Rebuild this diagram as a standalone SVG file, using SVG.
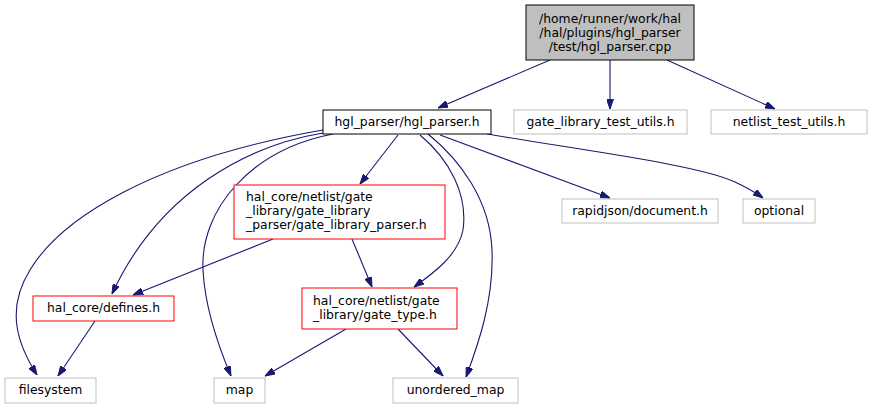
<svg xmlns="http://www.w3.org/2000/svg" width="873" height="409" viewBox="0 0 873 409">
<style>
text{font-family:"DejaVu Sans","Liberation Sans",sans-serif;font-size:12.4px;fill:#000}
.c{text-anchor:middle}
.n rect{fill:#fff;stroke:#bfbfbf;stroke-width:1}
.n.r rect{stroke:#ff0000}
.n.k rect{stroke:#000}
.n.root rect{fill:#bfbfbf;stroke:#000}
.e path{fill:none;stroke:#191970;stroke-width:1.1;marker-end:url(#a)}
</style>
<defs>
<marker id="a" viewBox="0 0 10 7" refX="10" refY="3.5" markerWidth="10" markerHeight="7" markerUnits="userSpaceOnUse" orient="auto">
<path d="M0,0 L10,3.5 L0,7 z" fill="#191970" stroke="#191970"/>
</marker>
</defs>
<rect width="873" height="409" fill="#fff"/>
<g class="e">
<path d="M550,60 L438,108"/>
<path d="M610,60 L610,109"/>
<path d="M667,60 L775,109"/>
<path d="M323,130 C150,160 60,220 30,270 C5,310 18,345 37,375"/>
<path d="M323,133 C250,145 160,190 112,294"/>
<path d="M333,134 C250,150 200,210 203,270 C205,310 220,350 231,376"/>
<path d="M398,135 L360,184"/>
<path d="M420,135 C450,160 468,195 463,230 C458,255 435,272 414,287"/>
<path d="M428,134 C460,160 490,200 492,250 C494,300 478,345 466,377"/>
<path d="M440,135 L610,198"/>
<path d="M487,134 C580,150 700,165 735,182 C748,188 756,193 763,198"/>
<path d="M273,239 L133,295"/>
<path d="M352,239 L372,287"/>
<path d="M95,321 L58,376"/>
<path d="M346,329 L265,376"/>
<path d="M398,329 L443,376"/>
</g>
<g id="n_root" class="n root"><rect x="526" y="5" width="168" height="55"/><text class="c" x="610" y="23">/home/runner/work/hal</text><text class="c" x="610" y="37">/hal/plugins/hgl_parser</text><text class="c" x="610" y="51">/test/hgl_parser.cpp</text></g>
<g id="n_hgl" class="n k"><rect x="323" y="110" width="168" height="24"/><text class="c" x="407" y="126">hgl_parser/hgl_parser.h</text></g>
<g id="n_gltu" class="n"><rect x="514" y="110" width="173" height="24"/><text class="c" x="600.5" y="126">gate_library_test_utils.h</text></g>
<g id="n_ntu" class="n"><rect x="711" y="110" width="156" height="24"/><text class="c" x="789" y="126">netlist_test_utils.h</text></g>
<g id="n_glp" class="n r"><rect x="234" y="185" width="211" height="54"/><text x="246" y="201">hal_core/netlist/gate</text><text x="246" y="215">_library/gate_library</text><text x="246" y="229">_parser/gate_library_parser.h</text></g>
<g id="n_rj" class="n"><rect x="562" y="199" width="156" height="24"/><text class="c" x="640" y="215">rapidjson/document.h</text></g>
<g id="n_opt" class="n"><rect x="743" y="199" width="72" height="24"/><text class="c" x="779" y="215">optional</text></g>
<g id="n_def" class="n r"><rect x="33" y="296" width="141" height="25"/><text class="c" x="103.5" y="312">hal_core/defines.h</text></g>
<g id="n_gt" class="n r"><rect x="302" y="288" width="155" height="41"/><text x="313" y="305">hal_core/netlist/gate</text><text x="313" y="319">_library/gate_type.h</text></g>
<g id="n_fs" class="n"><rect x="5" y="378" width="91" height="25"/><text class="c" x="50.5" y="394">filesystem</text></g>
<g id="n_map" class="n"><rect x="214" y="378" width="51" height="25"/><text class="c" x="239.5" y="394">map</text></g>
<g id="n_um" class="n"><rect x="393" y="378" width="125" height="25"/><text class="c" x="455.5" y="394">unordered_map</text></g>
</svg>
